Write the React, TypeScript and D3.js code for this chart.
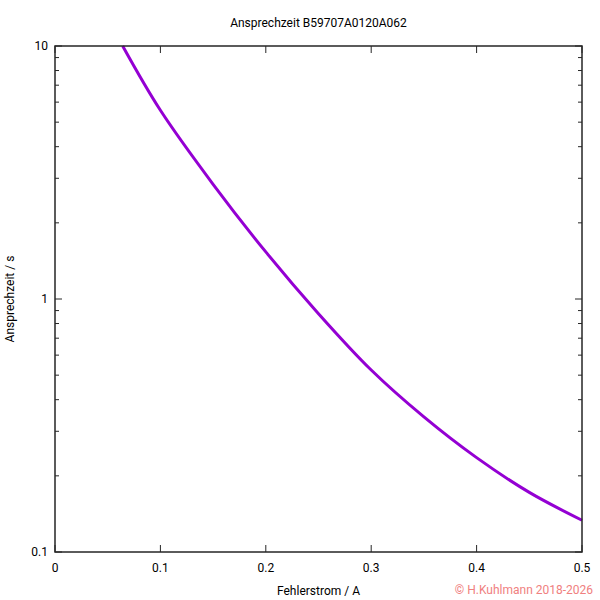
import React from "react";
import * as d3 from "d3";

const title = "Ansprechzeit B59707A0120A062";
const xLabel = "Fehlerstrom / A";
const yLabel = "Ansprechzeit / s";
const copyright = "© H.Kuhlmann 2018-2026";

const current = [0.0642, 0.1, 0.15, 0.2, 0.25, 0.3, 0.35, 0.4, 0.45, 0.5];
const time = [10, 5.57, 2.841, 1.535, 0.875, 0.524, 0.342, 0.236, 0.172, 0.1335];

const xTicks = [0, 0.1, 0.2, 0.3, 0.4, 0.5];
const yMajor = [0.1, 1, 10];

const W = 600, H = 600;
const M = { left: 55, right: 582, top: 46, bottom: 552 };

export default function App() {
  const x = d3.scaleLinear().domain([0, 0.5]).range([M.left, M.right]);
  const y = d3.scaleLog().domain([0.1, 10]).range([M.bottom, M.top]);
  const minor: number[] = [];
  [0.1, 1].forEach((d) => {
    for (let k = 2; k <= 9; k++) minor.push(d * k);
  });
  const pts = current.map((c, i) => [c, time[i]] as [number, number]);
  const line = d3
    .line<[number, number]>()
    .x((d) => x(d[0]))
    .y((d) => y(d[1]))
    .curve(d3.curveCatmullRom.alpha(0.5));
  const font = "Roboto, sans-serif";
  const axisColor = "#262626";
  return (
    <svg width={W} height={H} style={{ position: "absolute", left: 0, top: 0, background: "#fff" }} fontFamily={font}>
      <rect width={W} height={H} fill="#fff" />
      <text x={(M.left + M.right) / 2} y={27} fontSize={12} textAnchor="middle" fill="#000">{title}</text>
      {xTicks.map((t) => (
        <g key={"x" + t}>
          <line x1={x(t)} x2={x(t)} y1={M.bottom} y2={M.bottom - 7} stroke={axisColor} strokeWidth={1} />
          <line x1={x(t)} x2={x(t)} y1={M.top} y2={M.top + 7} stroke={axisColor} strokeWidth={1} />
          <text x={x(t)} y={572} fontSize={12} textAnchor="middle" fill="#000">{t === 0 ? "0" : String(t)}</text>
        </g>
      ))}
      {yMajor.map((t) => (
        <g key={"y" + t}>
          <line x1={M.left} x2={M.left + 7} y1={y(t)} y2={y(t)} stroke={axisColor} strokeWidth={1} />
          <line x1={M.right} x2={M.right - 7} y1={y(t)} y2={y(t)} stroke={axisColor} strokeWidth={1} />
          <text x={48} y={y(t) + 4} fontSize={12} textAnchor="end" fill="#000">{String(t)}</text>
        </g>
      ))}
      {minor.map((t) => (
        <g key={"m" + t}>
          <line x1={M.left} x2={M.left + 4} y1={y(t)} y2={y(t)} stroke={axisColor} strokeWidth={1} />
          <line x1={M.right} x2={M.right - 4} y1={y(t)} y2={y(t)} stroke={axisColor} strokeWidth={1} />
        </g>
      ))}
      <path d={line(pts) || ""} fill="none" stroke="#9400d3" strokeWidth={3} />
      <rect x={M.left} y={M.top} width={M.right - M.left} height={M.bottom - M.top} fill="none" stroke={axisColor} strokeWidth={1.5} />
      <text x={(M.left + M.right) / 2} y={595} fontSize={12} textAnchor="middle" fill="#000">{xLabel}</text>
      <text transform={`translate(14, ${(M.top + M.bottom) / 2}) rotate(-90)`} fontSize={12} textAnchor="middle" fill="#000">{yLabel}</text>
      <text x={593} y={594} fontSize={12} textAnchor="end" fill="#f08080">{copyright}</text>
    </svg>
  );
}
